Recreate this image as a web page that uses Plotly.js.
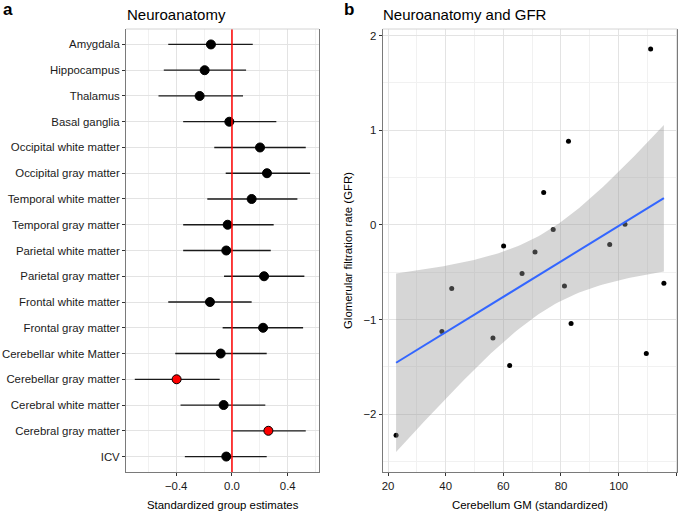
<!DOCTYPE html>
<html>
<head>
<meta charset="utf-8">
<script src="https://cdn.plot.ly/plotly-3.0.1.min.js"></script>
<style>html,body{margin:0;padding:0;background:#fff;}#chart{width:685px;height:512px;}</style>
</head>
<body>
<div id="chart"></div>
<script>
// ---- Panel a data ----
const regions = ["Amygdala","Hippocampus","Thalamus","Basal ganglia","Occipital white matter","Occipital gray matter","Temporal white matter","Temporal gray matter","Parietal white matter","Parietal gray matter","Frontal white matter","Frontal gray matter","Cerebellar white Matter","Cerebellar gray matter","Cerebral white matter","Cerebral gray matter","ICV"];
const estimates = [-0.151,-0.196,-0.232,-0.019,0.201,0.251,0.141,-0.031,-0.041,0.230,-0.158,0.223,-0.081,-0.397,-0.060,0.261,-0.041];
const lowerCI  = [-0.457,-0.489,-0.527,-0.350,-0.127,-0.045,-0.177,-0.350,-0.350,-0.057,-0.457,-0.067,-0.407,-0.697,-0.369,0.002,-0.338];
const upperCI  = [0.149,0.101,0.079,0.318,0.529,0.560,0.469,0.299,0.278,0.519,0.141,0.510,0.249,-0.088,0.239,0.529,0.249];
const xTicksA = [-0.4,0.0,0.4];
const xTickTextA = ["\u22120.4","0.0","0.4"];

// ---- Panel b data ----
const cerebellumGM = [111.1,82.6,74.0,77.3,60.1,71.0,96.9,102.2,66.5,42.1,81.2,115.7,38.7,83.5,56.4,62.2,109.6,22.8];
const gfr          = [1.860,0.885,0.342,-0.049,-0.222,-0.285,-0.207,0.007,-0.514,-0.672,-0.645,-0.616,-1.127,-1.042,-1.195,-1.486,-1.359,-2.223];
const xTicksB = [20,40,60,80,100,120];
const yTicksB = [-2,-1,0,1,2];
const yTickTextB = ["\u22122","\u22121","0","1","2"];

// significance: CI excludes zero
const sig = lowerCI.map((l,i)=> (l>0 || upperCI[i]<0));

// linear model fit (like geom_smooth(method="lm"))
function lmFit(x,y){
  const n=x.length;
  const mx=x.reduce((a,b)=>a+b,0)/n, my=y.reduce((a,b)=>a+b,0)/n;
  let sxx=0,sxy=0,syy=0;
  for(let i=0;i<n;i++){sxx+=(x[i]-mx)**2;sxy+=(x[i]-mx)*(y[i]-my);syy+=(y[i]-my)**2;}
  const b=sxy/sxx, a=my-b*mx;
  const s=Math.sqrt((syy-b*sxy)/(n-2));
  return {a,b,s,mx,sxx,n};
}
const fit = lmFit(cerebellumGM,gfr);
const tCrit = 2.1199; // t(0.975, df=16)
const xmin=Math.min(...cerebellumGM), xmax=Math.max(...cerebellumGM);
const NG=80;
const fx=[],fy=[],flo=[],fhi=[];
for(let k=0;k<NG;k++){
  const xv=xmin+(xmax-xmin)*k/(NG-1);
  const yv=fit.a+fit.b*xv;
  const se=fit.s*Math.sqrt(1/fit.n+(xv-fit.mx)**2/fit.sxx);
  fx.push(xv);fy.push(yv);flo.push(yv-tCrit*se);fhi.push(yv+tCrit*se);
}

const FONT="Liberation Sans, Arial, Helvetica, sans-serif";
const W=685,H=512;
const px=v=>v/W, py=v=>1-v/H;

const traces=[
  {
    type:'scatter',mode:'markers',x:estimates,y:regions,xaxis:'x',yaxis:'y',
    marker:{size:9,color:sig.map(s=>s?'#FF0000':'#000000'),line:{color:'#000',width:1}},
    error_x:{type:'data',symmetric:false,array:upperCI.map((u,i)=>u-estimates[i]),arrayminus:lowerCI.map((l,i)=>estimates[i]-l),width:0,thickness:1.3,color:'#1a1a1a'},
    hoverinfo:'skip'
  },
  {
    type:'scatter',mode:'markers',x:cerebellumGM,y:gfr,xaxis:'x2',yaxis:'y2',
    marker:{size:5,color:'#000'},hoverinfo:'skip'
  },
  {
    type:'scatter',mode:'lines',x:fx.concat(fx.slice().reverse()),y:fhi.concat(flo.slice().reverse()),
    xaxis:'x2',yaxis:'y2',fill:'toself',fillcolor:'rgba(153,153,153,0.4)',line:{width:0},hoverinfo:'skip'
  },
  {
    type:'scatter',mode:'lines',x:fx,y:fy,xaxis:'x2',yaxis:'y2',line:{color:'#3366FF',width:2},hoverinfo:'skip'
  }
];

const gridMaj='#e3e3e3', gridMin='#f1f1f1', lineCol='#7a7a7a';
const common={showline:true,linecolor:lineCol,linewidth:1,ticks:'outside',ticklen:3,tickcolor:'#333',tickwidth:1,
  tickfont:{family:FONT,size:11.4,color:'#1a1a1a'},zeroline:false,gridcolor:gridMaj,gridwidth:1,fixedrange:true};

const layout={
  width:W,height:H,margin:{l:0,r:0,t:0,b:0},paper_bgcolor:'#fff',plot_bgcolor:'#fff',showlegend:false,
  font:{family:FONT,size:11.4,color:'#1a1a1a'},
  xaxis:Object.assign({},common,{domain:[px(126),px(319)],range:[-0.760,0.624],tickmode:'array',tickvals:xTicksA,ticktext:xTickTextA,
    minor:{showgrid:true,dtick:0.2,tick0:0,gridcolor:gridMin,gridwidth:1,ticks:''},anchor:'y'}),
  yaxis:Object.assign({},common,{domain:[py(472),py(29)],type:'category',categoryorder:'array',categoryarray:regions,range:[16.6,-0.6],mirror:true,anchor:'x'}),
  xaxis2:Object.assign({},common,{domain:[px(382.7),px(677.3)],range:[18.16,120.35],tickmode:'array',tickvals:xTicksB,
    minor:{showgrid:true,dtick:10,tick0:0,gridcolor:gridMin,gridwidth:1,ticks:''},anchor:'y2'}),
  yaxis2:Object.assign({},common,{domain:[py(472),py(29)],range:[-2.61,2.07],tickmode:'array',tickvals:yTicksB,ticktext:yTickTextB,mirror:true,
    minor:{showgrid:true,dtick:0.5,tick0:0,gridcolor:gridMin,gridwidth:1,ticks:''},anchor:'x2'}),
  shapes:[
    {type:'line',xref:'x',yref:'y domain',x0:0,x1:0,y0:0,y1:1,line:{color:'#FF0000',width:1.5},layer:'above'},
    {type:'line',xref:'x domain',yref:'y domain',x0:0,x1:1,y0:1,y1:1,line:{color:'#d4d4d4',width:1}},
    {type:'line',xref:'x2 domain',yref:'y2 domain',x0:0,x1:1,y0:1,y1:1,line:{color:'#d4d4d4',width:1}}
  ],
  annotations:[
    {text:'<b>a</b>',xref:'paper',yref:'paper',x:px(1),y:py(9),xanchor:'left',yanchor:'middle',showarrow:false,font:{family:FONT,size:17,color:'#000'}},
    {text:'<b>b</b>',xref:'paper',yref:'paper',x:px(342),y:py(9),xanchor:'left',yanchor:'middle',showarrow:false,font:{family:FONT,size:17,color:'#000'}},
    {text:'Neuroanatomy',xref:'paper',yref:'paper',x:px(125),y:py(14.5),xanchor:'left',yanchor:'middle',showarrow:false,font:{family:FONT,size:15,color:'#000'}},
    {text:'Neuroanatomy and GFR',xref:'paper',yref:'paper',x:px(381),y:py(14.5),xanchor:'left',yanchor:'middle',showarrow:false,font:{family:FONT,size:15,color:'#000'}},
    {text:'Standardized group estimates',xref:'paper',yref:'paper',x:px(222.5),y:py(505),xanchor:'center',yanchor:'middle',showarrow:false,font:{family:FONT,size:11.4,color:'#000'}},
    {text:'Cerebellum GM (standardized)',xref:'paper',yref:'paper',x:px(530),y:py(505),xanchor:'center',yanchor:'middle',showarrow:false,font:{family:FONT,size:11.4,color:'#000'}},
    {text:'Glomerular filtration rate (GFR)',xref:'paper',yref:'paper',x:px(348),y:py(250),xanchor:'center',yanchor:'middle',textangle:-90,showarrow:false,font:{family:FONT,size:11.4,color:'#000'}}
  ]
};

Plotly.newPlot('chart',traces,layout,{displayModeBar:false,staticPlot:true});
</script>
</body>
</html>
